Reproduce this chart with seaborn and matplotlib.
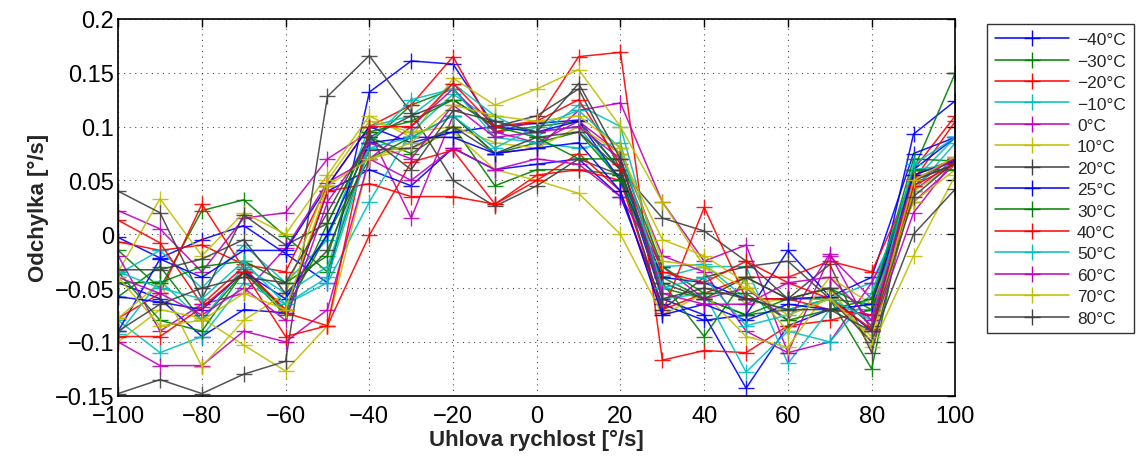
import matplotlib
matplotlib.use("Agg")
import matplotlib.pyplot as plt
from matplotlib.lines import Line2D
from matplotlib.ticker import FuncFormatter, MultipleLocator
import pandas as pd
import seaborn as sns

# angular rate points [deg/s]
rate = [-100, -90, -80, -70, -60, -50, -40, -30, -20, -10, 0,
        10, 20, 30, 40, 50, 60, 70, 80, 90, 100]

temps = ["\u221240°C", "\u221230°C", "\u221220°C", "\u221210°C", "0°C", "10°C", "20°C",
         "25°C", "30°C", "40°C", "50°C", "60°C", "70°C", "80°C"]

# four measurement runs per colour (MATLAB colour order cycles every 7 lines)
blue_runs = [
    [-0.003, -0.022, -0.005, 0.008, -0.018, -0.045, 0.132, 0.161, 0.158, 0.100, 0.103, 0.106, 0.060, -0.060, -0.075, -0.143, -0.085, -0.070, -0.075, 0.093, 0.124],
    [-0.045, -0.060, -0.095, -0.070, -0.073, 0.040, 0.060, 0.045, 0.080, 0.060, 0.065, 0.070, 0.035, -0.065, -0.080, -0.075, -0.015, -0.058, -0.040, 0.075, 0.090],
    [-0.090, -0.023, -0.040, -0.015, -0.015, 0.045, 0.100, 0.085, 0.095, 0.100, 0.095, 0.105, 0.050, -0.040, -0.045, -0.060, -0.060, -0.058, -0.090, 0.060, 0.090],
    [-0.058, -0.063, -0.070, -0.035, -0.060, 0.000, 0.085, 0.090, 0.090, 0.075, 0.080, 0.085, 0.040, -0.075, -0.065, -0.080, -0.065, -0.070, -0.065, 0.055, 0.068],
]
green_runs = [
    [-0.015, -0.050, 0.022, 0.032, -0.002, -0.035, 0.085, 0.120, 0.135, 0.095, 0.100, 0.105, 0.060, -0.050, -0.060, -0.075, -0.070, -0.060, -0.125, 0.060, 0.150],
    [-0.058, -0.030, -0.080, -0.035, -0.075, 0.010, 0.090, 0.075, 0.100, 0.045, 0.060, 0.060, 0.055, -0.040, -0.060, -0.075, -0.060, -0.060, -0.065, 0.070, 0.068],
    [-0.035, -0.080, -0.090, -0.035, -0.070, 0.000, 0.070, 0.090, 0.110, 0.075, 0.085, 0.095, 0.050, -0.045, -0.095, -0.040, -0.060, -0.050, -0.070, 0.050, 0.065],
    [-0.045, -0.045, -0.030, -0.025, -0.045, -0.020, 0.095, 0.105, 0.125, 0.100, 0.090, 0.070, 0.070, -0.030, -0.055, -0.055, -0.080, -0.070, -0.060, 0.060, 0.060],
]
red_runs = [
    [-0.007, -0.015, -0.010, -0.028, -0.035, 0.045, 0.100, 0.120, 0.165, 0.095, 0.105, 0.165, 0.169, -0.117, -0.108, -0.110, -0.085, -0.080, -0.070, 0.060, 0.110],
    [0.013, -0.008, -0.065, -0.030, -0.073, -0.085, -0.001, 0.067, 0.078, 0.028, 0.055, 0.060, 0.050, -0.070, -0.055, -0.040, -0.040, -0.025, -0.035, 0.050, 0.105],
    [-0.078, -0.055, 0.028, -0.032, -0.070, 0.040, 0.047, 0.035, 0.035, 0.028, 0.050, 0.075, 0.040, -0.073, 0.025, -0.060, -0.060, -0.070, -0.075, 0.055, 0.070],
    [-0.095, -0.095, -0.068, -0.035, -0.095, -0.085, 0.100, 0.100, 0.140, 0.100, 0.105, 0.125, 0.065, -0.035, -0.045, -0.025, -0.045, -0.060, -0.088, 0.045, 0.065],
]
cyan_runs = [
    [-0.037, -0.015, -0.050, -0.010, -0.045, -0.005, 0.100, 0.110, 0.140, 0.110, 0.090, 0.120, 0.100, -0.040, -0.030, -0.030, -0.120, -0.070, -0.070, 0.050, 0.090],
    [-0.080, -0.110, -0.095, -0.045, -0.065, -0.045, 0.030, 0.095, 0.130, 0.105, 0.095, 0.100, 0.050, -0.030, -0.028, -0.060, -0.070, -0.060, -0.045, 0.040, 0.085],
    [-0.093, -0.043, -0.080, -0.030, -0.055, -0.030, 0.085, 0.125, 0.135, 0.090, 0.085, 0.080, 0.085, -0.060, -0.055, -0.128, -0.090, -0.100, -0.055, 0.060, 0.065],
    [-0.035, -0.050, -0.060, -0.025, -0.065, -0.040, 0.080, 0.090, 0.110, 0.080, 0.100, 0.115, 0.080, -0.050, -0.040, -0.085, -0.075, -0.060, -0.080, 0.065, 0.090],
]
magenta_runs = [
    [0.022, 0.005, -0.035, 0.015, 0.020, 0.070, 0.095, 0.015, 0.110, 0.075, 0.080, 0.115, 0.122, 0.030, -0.025, -0.010, -0.110, -0.020, -0.060, 0.040, 0.070],
    [-0.020, -0.090, -0.065, -0.055, -0.013, 0.048, 0.070, 0.100, 0.135, 0.095, 0.085, 0.105, 0.075, -0.020, -0.035, -0.090, -0.110, -0.100, -0.045, 0.030, 0.065],
    [-0.100, -0.122, -0.122, -0.090, -0.100, -0.070, 0.070, 0.050, 0.080, 0.060, 0.070, 0.065, 0.035, -0.030, -0.060, -0.050, -0.080, -0.018, -0.090, 0.020, 0.070],
    [-0.040, -0.055, -0.075, -0.050, -0.080, 0.030, 0.085, 0.070, 0.120, 0.090, 0.095, 0.100, 0.070, -0.055, -0.065, -0.065, -0.045, -0.040, -0.080, 0.050, 0.070],
]
yellow_runs = [
    [-0.035, 0.033, -0.020, 0.020, 0.000, 0.055, 0.110, 0.090, 0.145, 0.120, 0.135, 0.153, 0.100, 0.030, -0.030, -0.065, -0.060, -0.050, -0.105, -0.020, 0.055],
    [-0.100, -0.070, -0.078, -0.103, -0.127, -0.085, 0.070, 0.080, 0.095, 0.060, 0.050, 0.038, 0.000, -0.075, -0.055, -0.095, -0.105, -0.050, -0.100, 0.040, 0.065],
    [-0.078, -0.045, -0.123, -0.080, -0.055, 0.050, 0.105, 0.095, 0.100, 0.085, 0.080, 0.100, 0.075, -0.005, -0.020, -0.045, -0.090, -0.040, -0.065, 0.030, 0.060],
    [-0.040, -0.085, -0.080, -0.055, -0.070, 0.045, 0.070, 0.085, 0.120, 0.110, 0.105, 0.110, 0.080, -0.025, -0.030, -0.050, -0.075, -0.060, -0.095, 0.050, 0.072],
]
gray_runs = [
    [0.040, 0.020, -0.060, 0.018, -0.010, 0.010, 0.090, 0.110, 0.125, 0.100, 0.110, 0.135, 0.060, 0.015, 0.003, -0.025, -0.060, -0.028, -0.110, 0.045, 0.072],
    [-0.148, -0.135, -0.148, -0.130, -0.118, 0.128, 0.166, 0.113, 0.050, 0.026, 0.045, 0.070, 0.055, -0.070, -0.040, -0.030, -0.025, -0.060, -0.100, 0.000, 0.042],
    [-0.033, -0.033, -0.023, -0.005, -0.055, -0.015, 0.078, 0.080, 0.100, 0.075, 0.090, 0.095, 0.060, -0.045, -0.060, -0.040, -0.060, -0.050, -0.085, 0.050, 0.065],
    [-0.090, -0.065, -0.050, -0.040, -0.045, 0.020, 0.090, 0.060, 0.115, 0.105, 0.095, 0.140, 0.070, -0.060, -0.050, -0.060, -0.070, -0.070, -0.090, 0.035, 0.068],
]

# old MATLAB default colour order
colors = ["#0000ff", "#008000", "#ff0000", "#00bfbf", "#bf00bf", "#bfbf00", "#404040"]
runs_by_color = [blue_runs, green_runs, red_runs, cyan_runs, magenta_runs, yellow_runs, gray_runs]

rows = []
for run in range(4):
    for ci in range(7):
        idx = run * 7 + ci
        for xv, yv in zip(rate, runs_by_color[ci][run]):
            rows.append({"line": idx, "color": ci, "x": xv, "y": yv})
df = pd.DataFrame(rows)

sns.set_style("white")
plt.rcParams["font.family"] = ["Liberation Sans", "DejaVu Sans"]

fig = plt.figure(figsize=(11.36, 4.64), dpi=100)
ax = fig.add_axes([0.104, 0.145, 0.737, 0.812])

for idx in range(28):
    c = colors[idx % 7]
    d = df[df["line"] == idx]
    sns.lineplot(data=d, x="x", y="y", ax=ax, color=c, marker="+",
                 markersize=11, markeredgecolor=c, markeredgewidth=1.0,
                 linewidth=1.1, alpha=0.9, legend=False)

fmt = FuncFormatter(lambda v, p: f"{v:g}".replace("-", "\u2212"))
ax.set_xlim(-100, 100)
ax.set_ylim(-0.15, 0.2)
ax.xaxis.set_major_locator(MultipleLocator(20))
ax.yaxis.set_major_locator(MultipleLocator(0.05))
ax.yaxis.set_major_formatter(fmt)
ax.xaxis.set_major_formatter(fmt)
ax.grid(True, color="black", linestyle=(0, (1, 4)), linewidth=0.8, alpha=0.7)
ax.tick_params(direction="in", length=6, width=1, top=True, right=True,
               labelsize=17, colors="black")
ax.tick_params(axis="x", pad=7)
ax.tick_params(axis="y", pad=3)
for s in ax.spines.values():
    s.set_color("black")
    s.set_linewidth(1.2)

ax.set_xlabel("Uhlova rychlost [°/s]", fontsize=16, fontweight="bold", labelpad=1)
ax.set_ylabel("Odchylka [°/s]", fontsize=16, fontweight="bold", labelpad=4)

handles = [Line2D([0], [0], color=colors[i % 7], marker="+", markersize=11,
                  markeredgecolor=colors[i % 7], linewidth=1.1) for i in range(14)]
leg = fig.legend(handles, temps, loc="upper left", bbox_to_anchor=(0.861, 0.964),
                 fontsize=12.5, handlelength=4.3, handletextpad=0.45,
                 labelspacing=0.36, borderpad=0.45, frameon=True, fancybox=False)
leg.get_frame().set_edgecolor("black")
leg.get_frame().set_linewidth(1.0)

fig.savefig("out.png", dpi=100)
